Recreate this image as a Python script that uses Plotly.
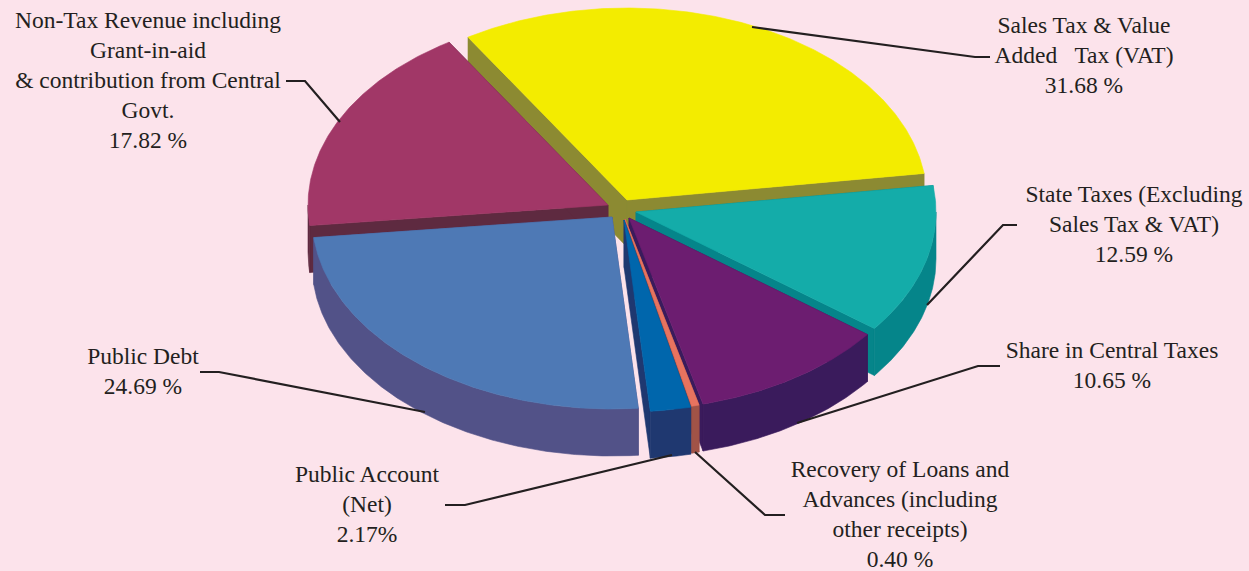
import numpy as np
import plotly.graph_objects as go

# ---- data ----
categories = ["Sales Tax & Value Added Tax (VAT)",
              "State Taxes (Excluding Sales Tax & VAT)",
              "Share in Central Taxes",
              "Recovery of Loans and Advances (including other receipts)",
              "Public Account (Net)",
              "Public Debt",
              "Non-Tax Revenue including Grant-in-aid & contribution from Central Govt."]
values = [31.68, 12.59, 10.65, 0.40, 2.17, 24.69, 17.82]

# ---- styles ----
top_colors = ["#F3EC00", "#14ACA9", "#6C1D70", "#E8735F", "#0066AC", "#4E79B5", "#A13767"]
outer_colors = ["#8C8A32", "#05858A", "#3A1B5C", "#A15347", "#1F3870", "#525288", "#5E2A40"]
cut_colors = ["#8C8A32", "#05858A", "#3A1B5C", "#A15347", "#1F3870", "#525288", "#5E2A40"]
apex_x = [627, 636, 629, 625, 624, 612, 608]
apex_y = [200, 212, 218, 219, 220, 217, 205]
draw_order = [0, 6, 1, 5, 2, 3, 4]
radius_x, radius_y, depth = 300, 192, 47
start_angle = -32.0
bg = "#FCE3EB"
line_color = "#231F20"
label_font = dict(family="Liberation Serif", size=23.5, color="#231F20")

label_lines = [
    (1084, 27, "Sales Tax & Value"), (1084, 57, "Added\u00a0\u00a0 Tax (VAT)"), (1084, 87, "31.68 %"),
    (148, 22, "Non-Tax Revenue including"), (148, 52, "Grant-in-aid"),
    (148, 82, "& contribution from Central"), (148, 112, "Govt."), (148, 142, "17.82 %"),
    (1134, 196, "State Taxes (Excluding"), (1134, 226, "Sales Tax & VAT)"), (1134, 256, "12.59 %"),
    (1112, 352, "Share in Central Taxes"), (1112, 382, "10.65 %"),
    (143, 358, "Public Debt"), (143, 388, "24.69 %"),
    (367, 476, "Public Account"), (367, 506, "(Net)"), (367, 536, "2.17%"),
    (900, 471, "Recovery of Loans and"), (900, 501, "Advances (including"),
    (900, 531, "other receipts)"), (900, 561, "0.40 %"),
]
leaders = [
    ([752, 975, 990], [27, 57, 57]),
    ([286, 305, 340], [81, 81, 122]),
    ([927, 1003, 1017], [305, 225, 225]),
    ([797, 978, 1000], [423, 366, 366]),
    ([695, 765, 785], [452, 515, 515]),
    ([672, 465, 445], [455, 505, 505]),
    ([425, 219, 200], [412, 372, 372]),
]

# ---- geometry derived from the values ----
total = sum(values)
edges = start_angle + np.concatenate([[0], np.cumsum(values)]) / total * 360.0


def arc(i, a0, a1, dy=0.0):
    t = np.radians(np.linspace(a0, a1, max(2, int(abs(a1 - a0)) * 2 + 2)))
    return apex_x[i] + radius_x * np.sin(t), apex_y[i] - radius_y * np.cos(t) + dy


def poly(fig, x, y, color, name):
    fig.add_trace(go.Scatter(x=list(x), y=list(y), mode="lines", fill="toself", fillcolor=color,
                             line=dict(color=color, width=0.6), name=name, hoverinfo="name",
                             showlegend=False))


fig = go.Figure()
for i in draw_order:
    a0, a1 = edges[i], edges[i + 1]
    name = categories[i]
    ex, ey = apex_x[i], apex_y[i]
    # cut faces at both radial edges
    for a in (a0, a1):
        px, py = arc(i, a, a)
        px, py = px[0], py[0]
        poly(fig, [ex, px, px, ex, ex], [ey, py, py + depth, ey + depth, ey], cut_colors[i], name)
    # outer rim for the part of the arc that faces the viewer
    lo, hi = max(a0, 90), min(a1, 270)
    if hi > lo:
        tx, ty = arc(i, lo, hi)
        bx, by = arc(i, hi, lo, depth)
        poly(fig, np.r_[tx, bx, tx[0]], np.r_[ty, by, ty[0]], outer_colors[i], name)
    tx, ty = arc(i, a0, a1)
    poly(fig, np.r_[ex, tx, ex], np.r_[ey, ty, ey], top_colors[i], name)

for lx, ly in leaders:
    fig.add_trace(go.Scatter(x=lx, y=ly, mode="lines", line=dict(color=line_color, width=2.2),
                             hoverinfo="skip", showlegend=False))

fig.add_trace(go.Scatter(x=[p[0] for p in label_lines], y=[p[1] for p in label_lines],
                         text=[p[2] for p in label_lines], mode="text", textposition="middle center",
                         textfont=label_font, hoverinfo="skip", showlegend=False))

fig.update_layout(width=1249, height=571, margin=dict(l=0, r=0, t=0, b=0),
                  paper_bgcolor=bg, plot_bgcolor=bg, showlegend=False,
                  xaxis=dict(range=[0, 1249], visible=False),
                  yaxis=dict(range=[571, 0], visible=False))
fig.write_html("out.html", config=dict(displayModeBar=False),
               post_script="document.body.style.margin='0';document.body.style.overflow='hidden';")
